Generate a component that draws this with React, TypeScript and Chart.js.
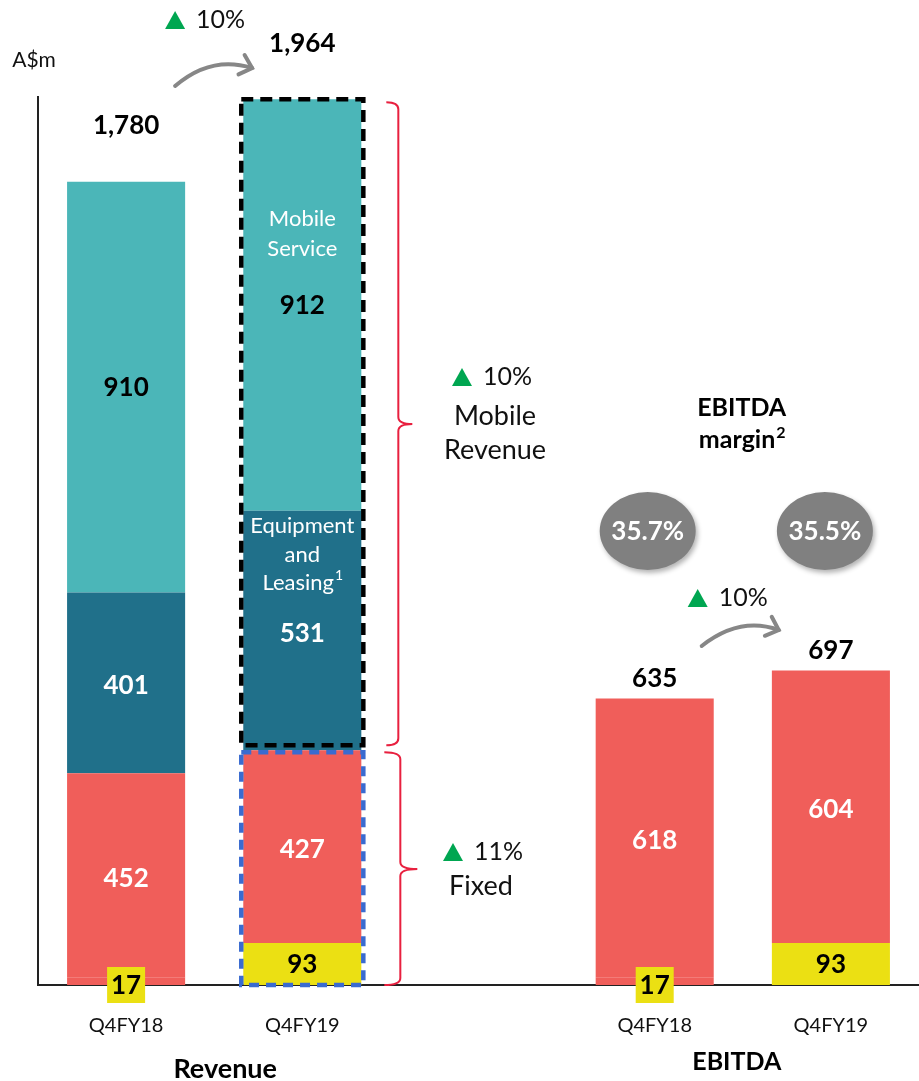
import React, { useEffect, useRef } from "react";
import { Chart, registerables } from "chart.js";

Chart.register(...registerables);

const categories = ["Q4FY18", "Q4FY19", "", "Q4FY18", "Q4FY19"];
const groupTitles = ["Revenue", "EBITDA"];
const otherValues = [17, 93, null, 17, 93];
const fixedValues = [452, 427, null, 618, 604];
const equipmentValues = [401, 531, null, null, null];
const mobileServiceValues = [910, 912, null, null, null];
const totalLabels = ["1,780", "1,964", "", "635", "697"];
const marginLabels = ["35.7%", "35.5%"];
const revenueGrowth = "10%";
const ebitdaGrowth = "10%";
const mobileGrowth = "10%";
const fixedGrowth = "11%";
const unitLabel = "A$m";

const FONT = "Lato, 'Open Sans', sans-serif";
const C_YELLOW = "#EBE013";
const C_RED = "#F05E5A";
const C_DARK = "#20708A";
const C_TEAL = "#4BB6B8";
const C_GREEN = "#00A651";
const C_BRACE = "#E8203F";
const C_GREY = "#808080";

function fmt(v: number) {
  return v.toLocaleString("en-US");
}

function text(ctx: CanvasRenderingContext2D, s: string, x: number, y: number, size: number, bold: boolean, color: string, align: CanvasTextAlign = "center") {
  ctx.font = `${bold ? "bold " : ""}${size}px ${FONT}`;
  ctx.fillStyle = color;
  ctx.textAlign = align;
  ctx.textBaseline = "middle";
  ctx.fillText(s, x, y);
}

function textSup(ctx: CanvasRenderingContext2D, s: string, sup: string, cx: number, y: number, size: number, bold: boolean, color: string) {
  ctx.font = `${bold ? "bold " : ""}${size}px ${FONT}`;
  const w1 = ctx.measureText(s).width;
  ctx.font = `${bold ? "bold " : ""}${Math.round(size * 0.62)}px ${FONT}`;
  const w2 = ctx.measureText(sup).width;
  const left = cx - (w1 + w2) / 2;
  text(ctx, s, left, y, size, bold, color, "left");
  text(ctx, sup, left + w1 + 1, y - size * 0.3, Math.round(size * 0.62), bold, color, "left");
}

function growth(ctx: CanvasRenderingContext2D, label: string, triX: number, y: number, size: number) {
  ctx.fillStyle = C_GREEN;
  ctx.beginPath();
  ctx.moveTo(triX, y + 9);
  ctx.lineTo(triX + 20, y + 9);
  ctx.lineTo(triX + 10, y - 9);
  ctx.closePath();
  ctx.fill();
  text(ctx, label, triX + 31, y, size, false, "#111", "left");
}

function brace(ctx: CanvasRenderingContext2D, x: number, yTop: number, yBot: number, tipY: number, arm: number, tip: number) {
  const r = 7;
  ctx.save();
  ctx.strokeStyle = C_BRACE;
  ctx.lineWidth = 2;
  ctx.beginPath();
  ctx.moveTo(x - arm, yTop);
  ctx.quadraticCurveTo(x, yTop, x, yTop + r);
  ctx.lineTo(x, tipY - r);
  ctx.quadraticCurveTo(x, tipY, x + tip, tipY);
  ctx.quadraticCurveTo(x, tipY, x, tipY + r);
  ctx.lineTo(x, yBot - r);
  ctx.quadraticCurveTo(x, yBot, x - arm, yBot);
  ctx.stroke();
  ctx.restore();
}

function curvedArrow(ctx: CanvasRenderingContext2D, x0: number, y0: number, cx: number, cy: number, x1: number, y1: number) {
  ctx.save();
  ctx.strokeStyle = "#878787";
  ctx.lineWidth = 4;
  ctx.lineCap = "round";
  ctx.beginPath();
  ctx.moveTo(x0, y0);
  ctx.quadraticCurveTo(cx, cy, x1, y1);
  ctx.stroke();
  const ang = Math.atan2(y1 - cy, x1 - cx);
  const L = 15;
  ctx.beginPath();
  ctx.moveTo(x1 + Math.cos(ang + 2.4) * L, y1 + Math.sin(ang + 2.4) * L);
  ctx.lineTo(x1, y1);
  ctx.lineTo(x1 + Math.cos(ang - 2.4) * L, y1 + Math.sin(ang - 2.4) * L);
  ctx.stroke();
  ctx.restore();
}

const overlay = {
  id: "overlay",
  beforeDatasetsDraw(chart: any) {
    const ctx = chart.ctx as CanvasRenderingContext2D;
    const ca = chart.chartArea;
    ctx.save();
    ctx.strokeStyle = "#222";
    ctx.lineWidth = 2;
    ctx.beginPath();
    ctx.moveTo(ca.left, ca.top);
    ctx.lineTo(ca.left, ca.bottom);
    ctx.lineTo(ca.right, ca.bottom);
    ctx.stroke();
    ctx.restore();
  },
  afterDatasetsDraw(chart: any) {
    const ctx = chart.ctx as CanvasRenderingContext2D;
    const ca = chart.chartArea;
    const el = (ds: number, i: number) => chart.getDatasetMeta(ds).data[i];
    const series = [otherValues, fixedValues, equipmentValues, mobileServiceValues];
    const xs = categories.map((_, i) => el(0, i).x);
    const NUM = 26;

    // segment labels
    for (let d = 0; d < series.length; d++) {
      series[d].forEach((v, i) => {
        if (v == null) return;
        const e = el(d, i);
        const cy = (e.y + e.base) / 2;
        if (d === 0) {
          if (Math.abs(e.base - e.y) < 25) {
            ctx.fillStyle = C_YELLOW;
            ctx.fillRect(e.x - 19, ca.bottom - 18, 38, 36);
            text(ctx, fmt(v), e.x, ca.bottom + 1, NUM, true, "#000");
          } else {
            text(ctx, fmt(v), e.x, cy + 1, NUM, true, "#000");
          }
        } else if (d === 3) {
          text(ctx, fmt(v), e.x, cy + 1, NUM, true, "#000");
        } else {
          text(ctx, fmt(v), e.x, cy + 3, NUM, true, "#fff");
        }
      });
    }

    // segment names in Q4FY19 revenue
    const ms = el(3, 1);
    const msc = (ms.y + ms.base) / 2;
    text(ctx, "Mobile", ms.x, msc - 86, 22, false, "#fff");
    text(ctx, "Service", ms.x, msc - 56, 22, false, "#fff");
    const eq = el(2, 1);
    const eqc = (eq.y + eq.base) / 2;
    text(ctx, "Equipment", eq.x, eqc - 105, 22, false, "#fff");
    text(ctx, "and", eq.x, eqc - 76, 22, false, "#fff");
    textSup(ctx, "Leasing", "1", eq.x, eqc - 48, 22, false, "#fff");

    // totals
    totalLabels.forEach((s, i) => {
      if (!s) return;
      const top = el(i < 2 ? 3 : 1, i).y;
      text(ctx, s, xs[i], top - (i < 2 ? 56 : 20), NUM, true, "#000");
    });

    // dashed boxes around Q4FY19 revenue
    const fx = el(1, 1);
    const half = fx.width / 2;
    ctx.save();
    ctx.lineWidth = 4.5;
    ctx.setLineDash([12, 7]);
    ctx.strokeStyle = "#000";
    ctx.strokeRect(fx.x - half - 2, ms.y, fx.width + 4, eq.base - ms.y - 5);
    ctx.strokeStyle = "#3A6BD0";
    ctx.setLineDash([10, 7]);
    ctx.strokeRect(fx.x - half - 2, fx.y + 2, fx.width + 4, ca.bottom - fx.y - 2);
    ctx.restore();

    // braces
    const bx = fx.x + half + 37;
    brace(ctx, bx, ms.y + 3, eq.base - 5, 424, 12, 14);
    brace(ctx, bx + 2, fx.y + 2, ca.bottom, 869, 16, 17);

    growth(ctx, mobileGrowth, 452, 377, 25);
    text(ctx, "Mobile", 495, 416, 27, false, "#111");
    text(ctx, "Revenue", 495, 450, 27, false, "#111");
    growth(ctx, fixedGrowth, 443, 852, 25);
    text(ctx, "Fixed", 481, 886, 27, false, "#111");

    // revenue growth arrow
    growth(ctx, revenueGrowth, xs[0] + 39, 20, 25);
    curvedArrow(ctx, xs[0] + 49, 86, xs[0] + 85, 55, xs[0] + 126, 68);

    // EBITDA margin
    text(ctx, "EBITDA", xs[3] + 87, 408, 25, true, "#000");
    textSup(ctx, "margin", "2", xs[3] + 87, 440, 25, true, "#000");
    marginLabels.forEach((s, k) => {
      const cx = xs[3 + k] - 7 + k * 1;
      ctx.save();
      ctx.shadowColor = "rgba(0,0,0,0.3)";
      ctx.shadowBlur = 5;
      ctx.shadowOffsetX = 2;
      ctx.shadowOffsetY = 3;
      ctx.fillStyle = C_GREY;
      ctx.beginPath();
      ctx.ellipse(cx, 531, 48, 39, 0, 0, Math.PI * 2);
      ctx.fill();
      ctx.restore();
      text(ctx, s, cx, 532, 26, true, "#fff");
    });

    growth(ctx, ebitdaGrowth, xs[3] + 33, 598, 25);
    curvedArrow(ctx, xs[3] + 47, 646, xs[3] + 85, 616, xs[3] + 124, 630);

    // axis labels
    categories.forEach((c, i) => {
      if (c) text(ctx, c, xs[i], 1026, 20, false, "#111");
    });
    text(ctx, groupTitles[0], (xs[0] + xs[1]) / 2 + 11, 1069, 27, true, "#000");
    text(ctx, groupTitles[1], (xs[3] + xs[4]) / 2 - 6, 1062, 25, true, "#000");
    text(ctx, unitLabel, 34, 60, 21, false, "#111");
  },
};

export default function App() {
  const ref = useRef<HTMLCanvasElement>(null);
  useEffect(() => {
    if (!ref.current) return;
    const chart = new Chart(ref.current, {
      type: "bar",
      data: {
        labels: categories,
        datasets: [
          {
            label: "Other",
            data: otherValues,
            // tiny segments are hidden under their label box in the reference
            backgroundColor: (c: any) => ((c.raw ?? 0) < 30 ? C_RED : C_YELLOW),
          },
          { label: "Fixed", data: fixedValues, backgroundColor: C_RED },
          { label: "Equipment and Leasing", data: equipmentValues, backgroundColor: C_DARK },
          { label: "Mobile Service", data: mobileServiceValues, backgroundColor: C_TEAL },
        ],
      },
      options: {
        responsive: false,
        animation: false,
        layout: { padding: { left: 38, right: 0, top: 96, bottom: 96 } },
        datasets: { bar: { categoryPercentage: 1, barPercentage: 0.67 } },
        plugins: { legend: { display: false }, tooltip: { enabled: false } },
        scales: {
          x: { stacked: true, display: false },
          y: { stacked: true, display: false, min: 0, max: 1970 },
        },
      },
      plugins: [overlay],
    });
    return () => chart.destroy();
  }, []);
  return (
    <div style={{ position: "absolute", left: 0, top: 0, width: 919, height: 1081, background: "#fff" }}>
      <canvas ref={ref} width={919} height={1081} />
    </div>
  );
}
